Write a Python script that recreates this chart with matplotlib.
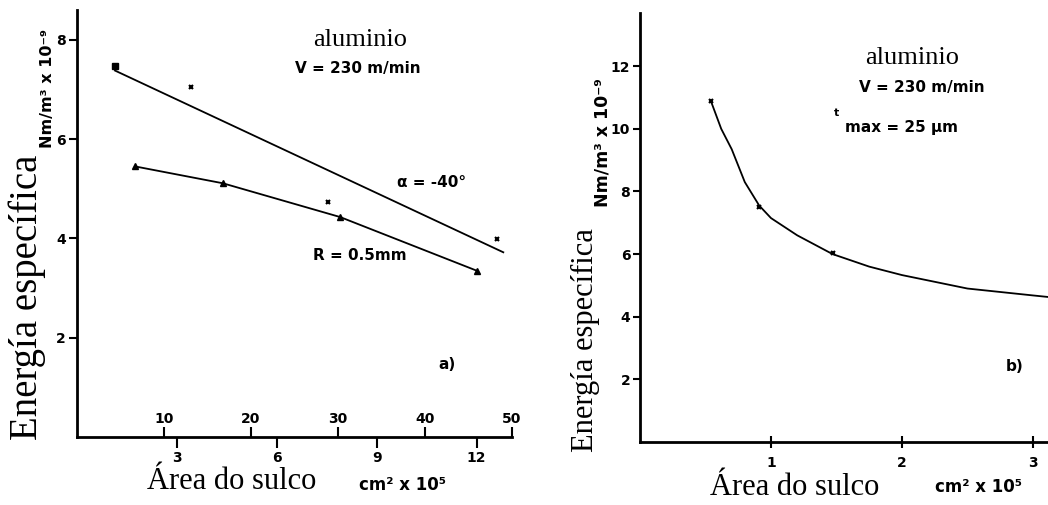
import matplotlib
matplotlib.use('Agg')
import matplotlib.pyplot as plt

# painel a) - aluminio, V = 230 m/min
alpha_x = [1.14, 3.42, 7.54, 12.6]
alpha_y = [7.48, 7.04, 4.73, 3.98]
alpha_fit_x = [1.14, 12.8]
alpha_fit_y = [7.38, 3.72]
raio_x = [1.74, 4.38, 7.9, 12.0]
raio_y = [5.45, 5.11, 4.43, 3.35]

# painel b) - tmax = 25 um
curva_x = [0.54, 0.62, 0.7, 0.8, 0.91, 1.0, 1.2, 1.47, 1.75, 2.0, 2.5, 3.0, 3.14]
curva_y = [10.9, 10.0, 9.35, 8.3, 7.55, 7.15, 6.6, 6.0, 5.6, 5.33, 4.9, 4.68, 4.62]
pontos_b_x = [0.54, 0.91, 1.47]
pontos_b_y = [10.9, 7.5, 6.04]

ticks_a_y = [2, 4, 6, 8]
ticks_a_x = [3, 6, 9, 12]
ticks_a_top = [10, 20, 30, 40, 50]
ticks_b_y = [2, 4, 6, 8, 10, 12]
ticks_b_x = [1, 2, 3]

serif = 'Liberation Serif'
sans = 'DejaVu Sans'

fig = plt.figure(figsize=(10.48, 5.05), dpi=100)

def estilo(ax):
    ax.spines['top'].set_visible(False)
    ax.spines['right'].set_visible(False)
    ax.spines['left'].set_linewidth(2)
    ax.spines['bottom'].set_linewidth(2)
    for lab in ax.get_xticklabels() + ax.get_yticklabels():
        lab.set_fontweight('bold')
        lab.set_family(sans)

# ---- a)
ax1 = fig.add_axes([0.0735, 0.1347, 0.415, 0.8455])
ax1.plot(alpha_fit_x, alpha_fit_y, color='black', lw=1.3)
ax1.plot(alpha_x[:1], alpha_y[:1], 's', color='black', ms=4)
ax1.plot(alpha_x[1:], alpha_y[1:], 'x', color='black', ms=3.5, mew=1.5)
ax1.plot(raio_x, raio_y, color='black', lw=1.3, marker='^', ms=4)
ax1.set_xlim(0, 13.06)
ax1.set_ylim(0, 8.6)
ax1.set_yticks(ticks_a_y)
ax1.set_xticks(ticks_a_x)
ax1.tick_params(axis='y', length=6, width=1.5, pad=2, labelsize=10)
ax1.tick_params(axis='x', length=8, width=1.5, pad=2, labelsize=10)
estilo(ax1)

sec = ax1.secondary_xaxis(0.0, functions=(lambda x: x / 0.261, lambda t: t * 0.261))
sec.set_alignment('top')
sec.set_xticks(ticks_a_top)
sec.tick_params(direction='out', length=7, width=1.5, labelsize=10, pad=1)
sec.spines['top'].set_visible(False)
sec.spines['bottom'].set_visible(False)
for lab in sec.get_xticklabels():
    lab.set_fontweight('bold')

ax1.text(8.5, 7.99, 'aluminio', family=serif, fontsize=19, ha='center', va='center')
ax1.text(8.44, 7.42, 'V = 230 m/min', family=sans, fontsize=11, fontweight='bold', ha='center', va='center')
ax1.text(10.66, 5.13, 'α = -40°', family=sans, fontsize=11, fontweight='bold', ha='center', va='center')
ax1.text(8.5, 3.66, 'R = 0.5mm', family=sans, fontsize=11, fontweight='bold', ha='center', va='center')
ax1.text(11.1, 1.45, 'a)', family=sans, fontsize=11, fontweight='bold', ha='center', va='center')

# ---- b)
ax2 = fig.add_axes([0.6107, 0.1248, 0.3893, 0.8495])
ax2.plot(curva_x, curva_y, color='black', lw=1.3)
ax2.plot(pontos_b_x, pontos_b_y, 'x', color='black', ms=3.5, mew=1.5)
ax2.set_xlim(0, 3.115)
ax2.set_ylim(0, 13.7)
ax2.set_yticks(ticks_b_y)
ax2.set_xticks(ticks_b_x)
ax2.tick_params(axis='y', length=5, width=1.5, pad=2, labelsize=10)
ax2.tick_params(axis='x', direction='inout', length=8, width=1.5, pad=6, labelsize=10)
estilo(ax2)

ax2.text(2.08, 12.27, 'aluminio', family=serif, fontsize=19, ha='center', va='center')
ax2.text(2.15, 11.31, 'V = 230 m/min', family=sans, fontsize=11, fontweight='bold', ha='center', va='center')
ax2.text(1.50, 10.5, 't', family=sans, fontsize=8, fontweight='bold', ha='center', va='center')
ax2.text(2.0, 10.03, 'max = 25 µm', family=sans, fontsize=11, fontweight='bold', ha='center', va='center')
ax2.text(2.86, 2.4, 'b)', family=sans, fontsize=11, fontweight='bold', ha='center', va='center')

# rotulos dos eixos
fig.text(0.0258, 0.412, 'Energía específica', family=serif, fontsize=28, rotation=90, ha='center', va='center')
fig.text(0.0458, 0.8238, 'Nm/m³ x 10⁻⁹', family=sans, fontsize=11.5, fontweight='bold', rotation=90, ha='center', va='center')
fig.text(0.5582, 0.3267, 'Energía específica', family=serif, fontsize=22, rotation=90, ha='center', va='center')
fig.text(0.5745, 0.7168, 'Nm/m³ x 10⁻⁹', family=sans, fontsize=12.5, fontweight='bold', rotation=90, ha='center', va='center')

for (xa, ya), (xc, yc) in [((0.221, 0.0475), (0.3845, 0.04)), ((0.7586, 0.0356), (0.934, 0.0356))]:
    fig.text(xa, ya, 'Área do sulco', family=serif, fontsize=22, ha='center', va='center')
    fig.text(xc, yc, 'cm² x 10⁵', family=sans, fontsize=12, fontweight='bold', ha='center', va='center')

fig.savefig('out.png', dpi=100)
